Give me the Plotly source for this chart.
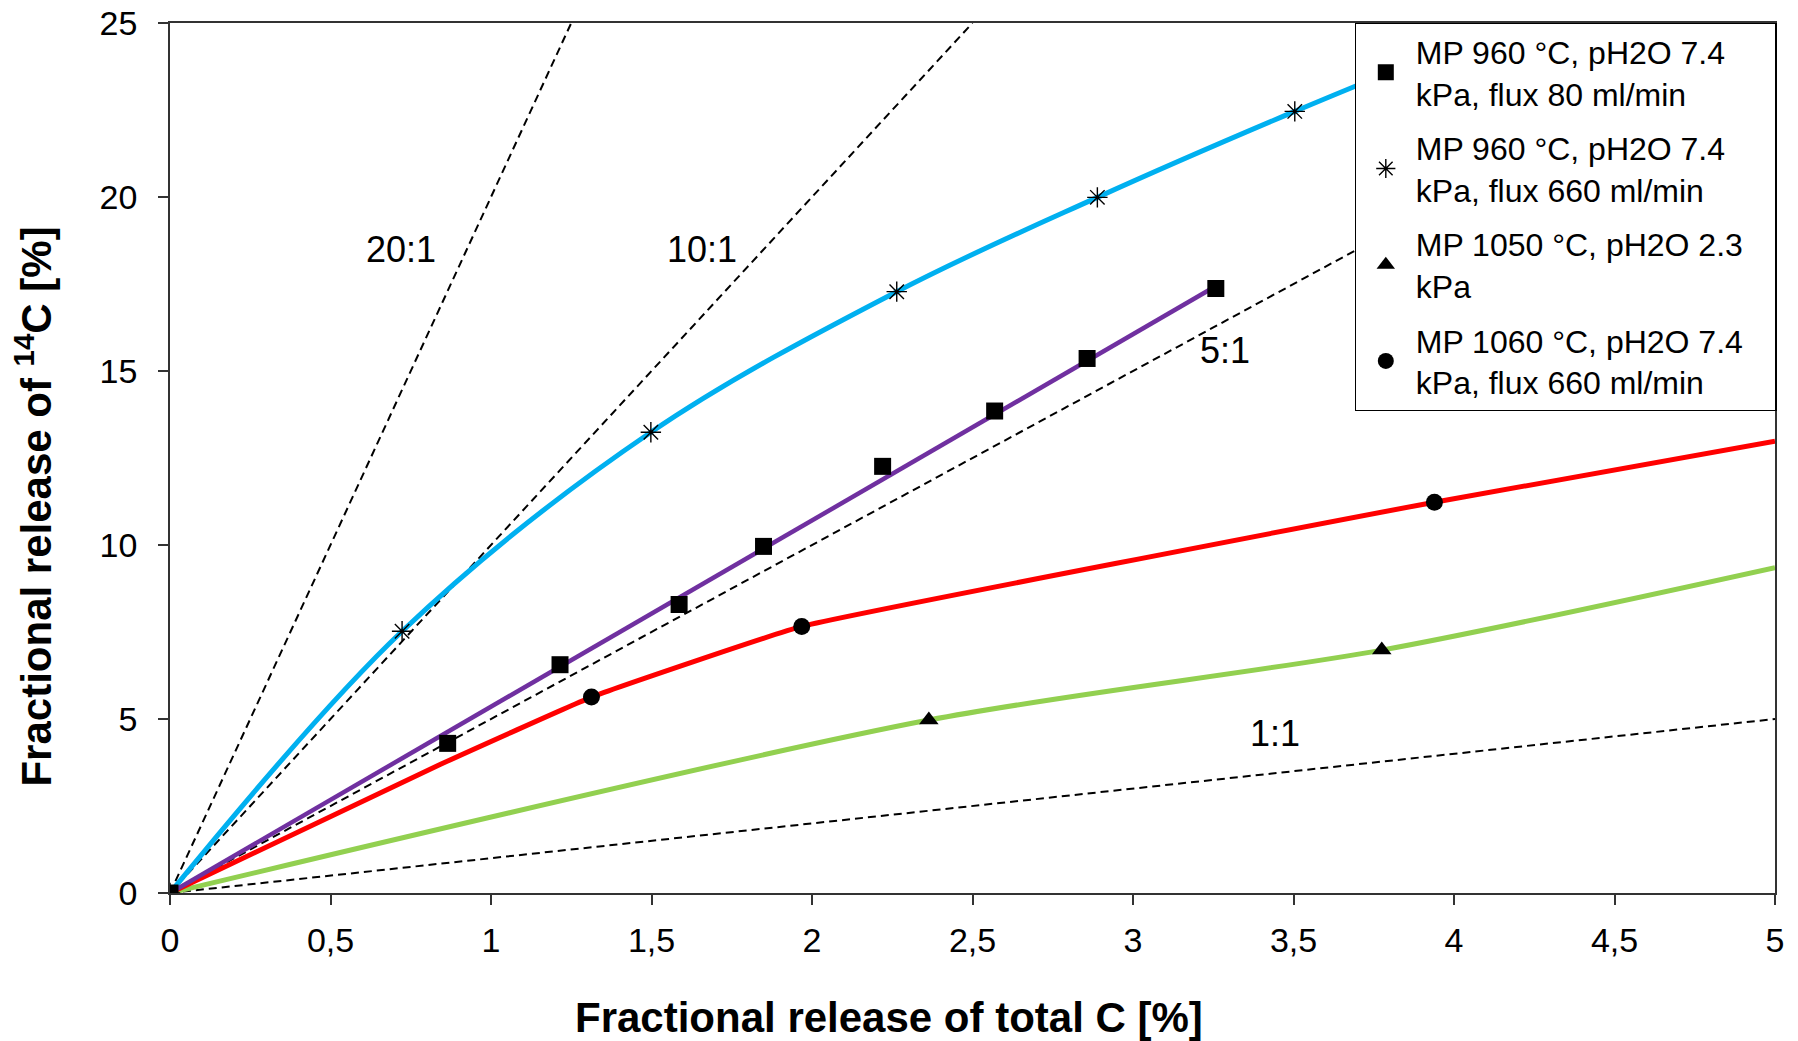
import plotly.graph_objects as go

# ---- data ----
sq_x = [0.0, 0.865, 1.215, 1.586, 1.849, 2.220, 2.569, 2.857, 3.258]
sq_y = [0.0, 4.30, 6.56, 8.29, 9.96, 12.26, 13.85, 15.36, 17.37]
purple_x = [0.0, 3.26]
purple_y = [0.0, 17.45]

star_x = [0.0, 0.723, 1.498, 2.264, 2.889, 3.504]
star_y = [0.0, 7.52, 13.24, 17.28, 19.99, 22.46]
cyan_x = [0.0, 0.723, 1.498, 2.264, 2.889, 3.504, 4.15]
cyan_y = [0.0, 7.52, 13.24, 17.28, 19.99, 22.46, 24.9]

tri_x = [2.364, 3.775]
tri_y = [4.97, 6.98]
green_x = [0.0, 2.364, 3.775, 5.0]
green_y = [0.0, 4.97, 6.98, 9.35]

circ_x = [1.313, 1.968, 3.939]
circ_y = [5.63, 7.66, 11.23]
red_x = [0.0, 0.843, 1.313, 1.968, 3.939, 5.0]
red_y = [0.0, 3.70, 5.63, 7.66, 11.23, 12.98]

ratios = [20, 10, 5, 1]
ratio_labels = ["20:1", "10:1", "5:1", "1:1"]
ratio_label_x = [0.72, 1.657, 3.286, 3.443]
ratio_label_y = [18.48, 18.48, 15.58, 4.57]

x_ticks = [0, 0.5, 1, 1.5, 2, 2.5, 3, 3.5, 4, 4.5, 5]
x_tick_text = ["0", "0,5", "1", "1,5", "2", "2,5", "3", "3,5", "4", "4,5", "5"]
y_ticks = [0, 5, 10, 15, 20, 25]

legend_names = [
    "MP 960 °C, pH2O 7.4<br>kPa, flux 80 ml/min",
    "MP 960 °C, pH2O 7.4<br>kPa, flux 660 ml/min",
    "MP 1050 °C, pH2O 2.3\u00a0\u00a0\u00a0<br>kPa",
    "MP 1060 °C, pH2O 7.4<br>kPa, flux 660 ml/min",
]

FONT = "Liberation Sans, Arial, sans-serif"
X_MAX, Y_MAX = 5, 25

fig = go.Figure()

# reference ratio lines
for k in ratios:
    xe = min(X_MAX, Y_MAX / k)
    fig.add_trace(go.Scatter(x=[0, xe], y=[0, k * xe], mode="lines",
                             line=dict(color="black", width=2, dash="8px,5px"),
                             showlegend=False, hoverinfo="skip"))

# curves
fig.add_trace(go.Scatter(x=green_x, y=green_y, mode="lines", line=dict(color="#92D050", width=5, shape="spline", smoothing=0.8), showlegend=False))
fig.add_trace(go.Scatter(x=red_x, y=red_y, mode="lines", line=dict(color="#FF0000", width=5, shape="spline", smoothing=0.3), showlegend=False))
fig.add_trace(go.Scatter(x=cyan_x, y=cyan_y, mode="lines", line=dict(color="#00B0F0", width=5, shape="spline", smoothing=1.0), showlegend=False))
fig.add_trace(go.Scatter(x=purple_x, y=purple_y, mode="lines", line=dict(color="#7030A0", width=4.5), showlegend=False))

# markers
fig.add_trace(go.Scatter(x=sq_x, y=sq_y, mode="markers", name=legend_names[0], legendgroup="a",
                         marker=dict(symbol="square", size=17, color="black")))
fig.add_trace(go.Scatter(x=star_x, y=star_y, mode="markers", name=legend_names[1], legendgroup="b",
                         marker=dict(symbol="asterisk-open", size=17, color="black",
                                     line=dict(color="black", width=1.4))))
fig.add_trace(go.Scatter(x=tri_x, y=tri_y, mode="markers", name=legend_names[2], legendgroup="c",
                         marker=dict(symbol="triangle-up", size=17, color="black")))
fig.add_trace(go.Scatter(x=circ_x, y=circ_y, mode="markers", name=legend_names[3], legendgroup="d",
                         marker=dict(symbol="circle", size=17, color="black")))

annotations = []
for t, lx, ly in zip(ratio_labels, ratio_label_x, ratio_label_y):
    annotations.append(dict(x=lx, y=ly, xref="x", yref="y", text=t, showarrow=False,
                            font=dict(size=36, color="black", family=FONT)))
annotations.append(dict(x=0.448, y=-0.143, xref="paper", yref="paper",
                        text="<b>Fractional release of total C [%]</b>", showarrow=False,
                        xanchor="center", yanchor="middle",
                        font=dict(size=42, color="black", family=FONT)))
annotations.append(dict(x=-0.085, y=0.4437, xref="paper", yref="paper",
                        text="<b>Fractional release of <sup>14</sup>C [%]</b>", showarrow=False,
                        textangle=-90, xanchor="center", yanchor="middle",
                        font=dict(size=42, color="black", family=FONT)))

axis_common = dict(showgrid=False, zeroline=False, showline=True, linecolor="#333333",
                   linewidth=1.5, mirror=True, ticks="outside", ticklen=10, tickwidth=1.5,
                   tickcolor="#333333", automargin=False,
                   tickfont=dict(size=34, color="black", family=FONT))

fig.update_layout(
    width=1798, height=1041,
    margin=dict(l=170, r=23, t=23, b=148),
    paper_bgcolor="white", plot_bgcolor="white",
    font=dict(family=FONT, color="black"),
    xaxis=dict(range=[0, X_MAX], tickvals=x_ticks, ticktext=x_tick_text, ticklabelstandoff=6, **axis_common),
    yaxis=dict(range=[0, Y_MAX], tickvals=y_ticks, ticklabelstandoff=14, **axis_common),
    legend=dict(x=1.001, y=1.0, xanchor="right", yanchor="top", bgcolor="white",
                bordercolor="black", borderwidth=1.2,
                font=dict(size=32, color="black", family=FONT),
                itemwidth=50, tracegroupgap=10),
    annotations=annotations,
    showlegend=True,
)

fig.write_html("out.html", config={"displayModeBar": False},
               post_script="document.body.style.margin='0';document.body.style.overflow='hidden';")
